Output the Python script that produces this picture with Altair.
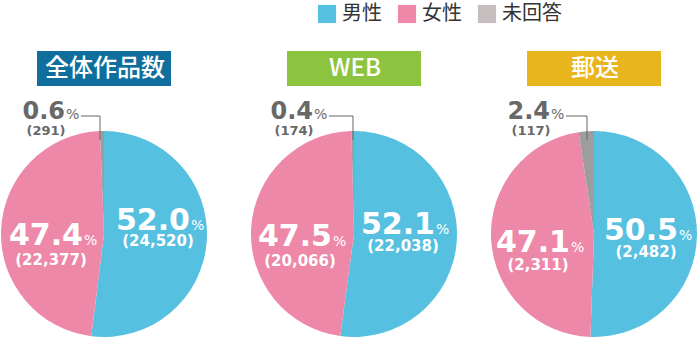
import altair as alt
import pandas as pd

# ---- data ----
panels = ["全体作品数", "WEB", "郵送"]
genders = ["男性", "女性", "未回答"]
male_counts = [24520, 22038, 2482]
female_counts = [22377, 20066, 2311]
unknown_counts = [291, 174, 117]
male_pct = [52.0, 52.1, 50.5]
female_pct = [47.4, 47.5, 47.1]
unknown_pct = [0.6, 0.4, 2.4]

rows = []
for i, p in enumerate(panels):
    cs = [male_counts[i], female_counts[i], unknown_counts[i]]
    ps = [male_pct[i], female_pct[i], unknown_pct[i]]
    for j, g in enumerate(genders):
        rows.append(dict(panel=p, gender=g, order=j, count=cs[j],
                         pct=f"{ps[j]:.1f}", cnt=f"({cs[j]:,})", unit="%"))
df = pd.DataFrame(rows)

# ---- layout / style ----
CENTERS = [104, 354, 594]
CY = 234
R = 103
BOX_COLORS = ["#0f6e9c", "#8dc43f", "#e9b51d"]
PIE_COLORS = ["#56c0e0", "#ee88a8", "#9d9d9d"]
LEGEND_COLORS = ["#56c0e0", "#ee88a8", "#c6bebe"]
NUM_FONT = "DejaVu Sans"
JP_FONT = "Noto Sans CJK JP"
# (right edge of number, number baseline, count baseline)
LAB = {
    "男性": [(190, 230, 246), (435, 234, 251), (678, 240, 257)],
    "女性": [(83, 245, 265), (332, 246, 266), (570, 252, 270)],
    "未回答": [(65, 119, 135), (313, 119, 135), (550, 119, 135)],
}
LEADER_X = [100, 353, 587]


def sel(p, g=None):
    base = alt.Chart(df)
    if g is None:
        return base.transform_filter(alt.datum.panel == p)
    return base.transform_filter((alt.datum.panel == p) & (alt.datum.gender == g))


def txt(p, g, field, x, y, align, size, weight, color, font=NUM_FONT, baseline="alphabetic"):
    return sel(p, g).mark_text(x=x, y=y, align=align, baseline=baseline, fontSize=size,
                               fontWeight=weight, color=color, font=font).encode(
        text=alt.Text(f"{field}:N"))


layers = []

# legend (invisible marks, visible legend)
legend_layer = alt.Chart(df).transform_filter(alt.datum.panel == panels[0]).mark_square(
    opacity=0).encode(
    color=alt.Color("gender:N",
                    scale=alt.Scale(domain=genders, range=LEGEND_COLORS),
                    legend=alt.Legend(orient="none", legendX=317, legendY=4,
                                      direction="horizontal", title=None,
                                      symbolType="square", symbolSize=330,
                                      symbolOpacity=1, symbolStrokeWidth=0,
                                      labelFont=JP_FONT, labelFontSize=20,
                                      labelColor="#333333", labelOffset=5,
                                      columnPadding=15)))
layers.append(legend_layer)

for i, p in enumerate(panels):
    cx = CENTERS[i]
    # pie
    layers.append(sel(p).mark_arc(x=cx, y=CY, radius=R).encode(
        theta=alt.Theta("count:Q", stack="normalize"),
        color=alt.Color("gender:N", scale=alt.Scale(domain=genders, range=PIE_COLORS), legend=None),
        order=alt.Order("order:Q")))
    # title box
    layers.append(sel(p, genders[0]).mark_rect(color=BOX_COLORS[i]).encode(
        x=alt.value(cx - 67), x2=alt.value(cx + 67), y=alt.value(51), y2=alt.value(86)))
    layers.append(txt(p, genders[0], "panel", cx + 1, 68.5, "center", 24, 500, "white",
                      font=JP_FONT, baseline="middle"))
    # male / female labels
    for g in ["男性", "女性"]:
        rx, by, cb = LAB[g][i]
        layers.append(txt(p, g, "pct", rx, by, "right", 30, "bold", "white"))
        layers.append(txt(p, g, "unit", rx + 1, by, "left", 14, "normal", "white"))
        layers.append(txt(p, g, "cnt", rx - 32, cb, "center", 15, "bold", "white"))
    # unknown label
    g = "未回答"
    rx, by, cb = LAB[g][i]
    layers.append(txt(p, g, "pct", rx, by, "right", 24, "bold", "#686868"))
    layers.append(txt(p, g, "unit", rx + 1, by, "left", 14, "normal", "#686868"))
    layers.append(txt(p, g, "cnt", rx - 19, cb, "center", 13, "bold", "#686868"))
    # leader line
    layers.append(sel(p, g).mark_rule(color="#666666", strokeWidth=1).encode(
        x=alt.value(rx + 16), x2=alt.value(LEADER_X[i]), y=alt.value(116)))
    layers.append(sel(p, g).mark_rule(color="#666666", strokeWidth=1).encode(
        x=alt.value(LEADER_X[i]), y=alt.value(116), y2=alt.value(140)))

chart = alt.layer(*layers).resolve_scale(color="independent", theta="independent").properties(
    width=700, height=340, autosize=alt.AutoSizeParams(type="none"), padding=0
).configure_view(stroke=None)

chart.save("out.html", embed_options={"renderer": "svg", "actions": False})
